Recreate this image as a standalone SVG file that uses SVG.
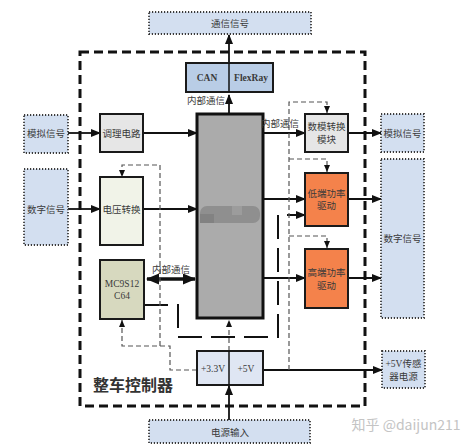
<svg xmlns="http://www.w3.org/2000/svg" width="474" height="446" viewBox="0 0 474 446">
<style>
.t{font-family:"Liberation Serif","Noto Sans CJK SC",serif;font-size:9.5px;fill:#3a3a3a;text-anchor:middle}
.b{font-weight:bold}
.io{fill:#d3dff0;stroke:#3a3a3a;stroke-width:1.8;stroke-dasharray:1.2 1.8}
.box{stroke:#1a1a1a;stroke-width:2}
.sol{stroke:#111;stroke-width:1.8;fill:none}
.gd{stroke:#555;stroke-width:1.2;stroke-dasharray:5 3;fill:none}
.ld{stroke:#111;stroke-width:2;stroke-dasharray:24 9;fill:none}
</style>
<defs>
<marker id="a" markerUnits="userSpaceOnUse" markerWidth="10" markerHeight="8" refX="9" refY="4" orient="auto"><path d="M0,0 L10,4 L0,8 z" fill="#111"/></marker>
<marker id="s" markerUnits="userSpaceOnUse" markerWidth="7" markerHeight="6" refX="7" refY="3" orient="auto"><path d="M0,0 L7,3 L0,6 z" fill="#111"/></marker>
<marker id="d" markerUnits="userSpaceOnUse" markerWidth="13" markerHeight="11" refX="12" refY="5.5" orient="auto-start-reverse"><path d="M0,0 L13,5.5 L0,11 z" fill="#111"/></marker>
</defs>
<rect width="474" height="446" fill="#fff"/>
<rect x="80" y="52" width="285" height="354" fill="none" stroke="#111" stroke-width="3" stroke-dasharray="9 5"/>

<g id="connectors">
<line class="sol" x1="68" y1="133" x2="100" y2="133" marker-end="url(#a)"/>
<line class="sol" x1="143" y1="133" x2="197" y2="133" marker-end="url(#a)"/>
<line class="sol" x1="68" y1="209" x2="100" y2="209" marker-end="url(#a)"/>
<line class="sol" x1="143" y1="209" x2="197" y2="209" marker-end="url(#a)"/>
<line class="sol" x1="263" y1="133" x2="305" y2="133" marker-end="url(#a)"/>
<line class="sol" x1="348" y1="133" x2="381" y2="133" marker-end="url(#a)"/>
<line class="sol" x1="263" y1="199" x2="305" y2="199" marker-end="url(#a)"/>
<line class="sol" x1="348" y1="199" x2="381" y2="199" marker-end="url(#a)"/>
<line class="sol" x1="263" y1="278" x2="305" y2="278" marker-end="url(#a)"/>
<line class="sol" x1="348" y1="278" x2="381" y2="278" marker-end="url(#a)"/>
<line class="sol" x1="263" y1="370" x2="382" y2="370" marker-end="url(#a)"/>
<line class="sol" x1="229" y1="114" x2="229" y2="95" marker-end="url(#a)"/>
<line class="sol" x1="229" y1="92" x2="229" y2="35" marker-end="url(#a)"/>
<line class="sol" x1="229" y1="420" x2="229" y2="386" marker-end="url(#a)"/>
<line class="gd" x1="229" y1="351" x2="229" y2="320" marker-end="url(#s)"/>
<line x1="147" y1="279" x2="195" y2="279" stroke="#111" stroke-width="3.5" marker-start="url(#d)" marker-end="url(#d)"/>
<path class="ld" d="M144,305 H178 V337 H278 V215 H305" marker-end="url(#a)"/>
<path class="gd" d="M289,370 V102 H327 V113" marker-end="url(#s)"/>
<path class="gd" d="M289,159 H327 V172" marker-end="url(#s)"/>
<path class="gd" d="M289,236 H327 V248" marker-end="url(#s)"/>
<path class="gd" d="M197,370 H170 V346 H122 V320" marker-end="url(#s)"/>
<path class="gd" d="M160,346 V165 H122 V177" marker-end="url(#s)"/>
</g>

<g id="n-comm"><rect class="io" x="149" y="12" width="162" height="22"/><text class="t" x="230" y="27">通信信号</text></g>
<g id="n-can"><rect class="box" x="186" y="63" width="87" height="29" fill="#b9cde6"/><line x1="229" y1="63" x2="229" y2="92" stroke="#111" stroke-width="1.5"/><text class="t b" x="207" y="81">CAN</text><text class="t b" x="251" y="81">FlexRay</text></g>
<g id="n-mcu"><rect x="197" y="114" width="66" height="204" fill="#ababab" stroke="#111" stroke-width="3"/><rect x="200" y="206" width="60" height="17" rx="7" fill="#8f8f8f"/><rect x="200" y="214" width="14" height="9" fill="#828282"/><rect x="232" y="206" width="10" height="9" fill="#9c9c9c"/></g>
<g id="n-ain"><rect class="io" x="24" y="115" width="44" height="38"/><text class="t" x="46" y="137">模拟信号</text></g>
<g id="n-din"><rect class="io" x="24" y="169" width="44" height="76"/><text class="t" x="46" y="213">数字信号</text></g>
<g id="n-cond"><rect class="box" x="100" y="114" width="43" height="38" fill="#e6e6e6"/><text class="t" x="121.5" y="137">调理电路</text></g>
<g id="n-volt"><rect class="box" x="100" y="177" width="43" height="68" fill="#f1f3e8"/><text class="t" x="121.5" y="213">电压转换</text></g>
<g id="n-mc9"><rect class="box" x="100" y="260" width="44" height="59" fill="#d7d9bf"/><text class="t" x="122" y="287">MC9S12</text><text class="t" x="122" y="299">C64</text></g>
<g id="n-label-int1"><text class="t" x="206" y="104">内部通信</text></g>
<g id="n-label-int2"><text class="t" x="280" y="127">内部通信</text></g>
<g id="n-label-int3"><text class="t" x="171" y="273">内部通信</text></g>
<g id="n-dac"><rect class="box" x="305" y="114" width="43" height="38" fill="#e6e6e6"/><text class="t" x="326.5" y="130">数模转换</text><text class="t" x="326.5" y="143">模块</text></g>
<g id="n-low"><rect class="box" x="305" y="173" width="43" height="53" fill="#f4824b"/><text class="t" x="326.5" y="197">低端功率</text><text class="t" x="326.5" y="209">驱动</text></g>
<g id="n-high"><rect class="box" x="305" y="249" width="43" height="59" fill="#f4824b"/><text class="t" x="326.5" y="276">高端功率</text><text class="t" x="326.5" y="289">驱动</text></g>
<g id="n-aout"><rect class="io" x="381" y="114" width="43" height="38"/><text class="t" x="402.5" y="137">模拟信号</text></g>
<g id="n-dout"><rect class="io" x="381" y="159" width="43" height="159"/><text class="t" x="402.5" y="242">数字信号</text></g>
<g id="n-5vs"><rect class="io" x="382" y="351" width="43" height="37"/><text class="t" x="403.5" y="367">+5V传感</text><text class="t" x="403.5" y="380">器电源</text></g>
<g id="n-pwr"><rect class="box" x="197" y="351" width="66" height="34" fill="#dfe6f3"/><line x1="229" y1="351" x2="229" y2="385" stroke="#111" stroke-width="1.5"/><text class="t" x="213" y="372">+3.3V</text><text class="t" x="246" y="372">+5V</text></g>
<g id="n-pin"><rect class="io" x="149" y="420" width="161" height="23"/><text class="t" x="230" y="436">电源输入</text></g>
<g id="n-title"><text class="t b" x="133" y="391" style="font-size:16px;fill:#333">整车控制器</text></g>
<text x="406" y="430" style="font-family:'Noto Sans CJK SC','Noto Sans',sans-serif;font-size:14px;fill:#c4c4c4;text-anchor:middle">知乎 @daijun211</text>
</svg>
